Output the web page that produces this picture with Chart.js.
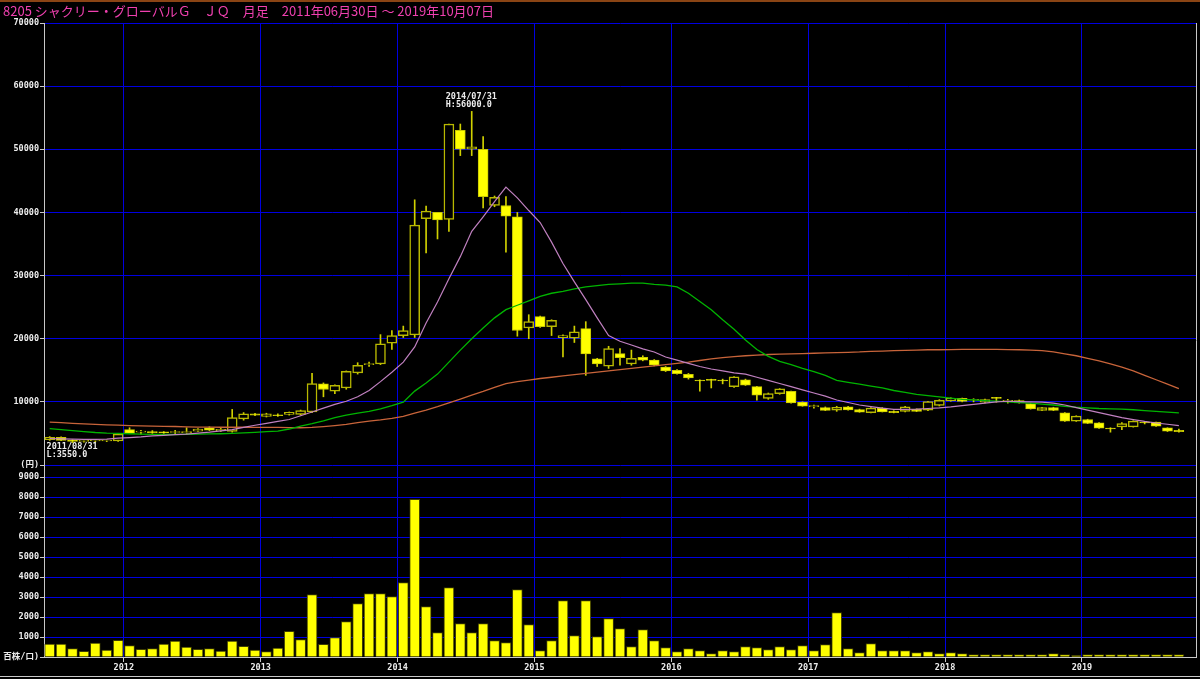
<!DOCTYPE html>
<html>
<head>
<meta charset="utf-8">
<script src="https://cdn.jsdelivr.net/npm/chart.js@4.4.0/dist/chart.umd.min.js"></script>
<style>
  html, body { margin: 0; padding: 0; background: #000; overflow: hidden; }
  #wrap { position: relative; width: 1200px; height: 679px; }
</style>
</head>
<body>
<div id="wrap"><canvas id="c" width="1200" height="679"></canvas></div>
<script>
// monthly candles 2011/06 .. 2019/10 (last month has no candle yet)
const months = [
  '2011/06','2011/07','2011/08','2011/09','2011/10','2011/11','2011/12',
  '2012/01','2012/02','2012/03','2012/04','2012/05','2012/06','2012/07','2012/08','2012/09','2012/10','2012/11','2012/12',
  '2013/01','2013/02','2013/03','2013/04','2013/05','2013/06','2013/07','2013/08','2013/09','2013/10','2013/11','2013/12',
  '2014/01','2014/02','2014/03','2014/04','2014/05','2014/06','2014/07','2014/08','2014/09','2014/10','2014/11','2014/12',
  '2015/01','2015/02','2015/03','2015/04','2015/05','2015/06','2015/07','2015/08','2015/09','2015/10','2015/11','2015/12',
  '2016/01','2016/02','2016/03','2016/04','2016/05','2016/06','2016/07','2016/08','2016/09','2016/10','2016/11','2016/12',
  '2017/01','2017/02','2017/03','2017/04','2017/05','2017/06','2017/07','2017/08','2017/09','2017/10','2017/11','2017/12',
  '2018/01','2018/02','2018/03','2018/04','2018/05','2018/06','2018/07','2018/08','2018/09','2018/10','2018/11','2018/12',
  '2019/01','2019/02','2019/03','2019/04','2019/05','2019/06','2019/07','2019/08','2019/09','2019/10'
];

const opens = [
  4000,4400,3950,3750,3800,3800,3800,5600,5200,5300,
  5200,5150,5100,5350,5900,5400,5300,7300,8100,7700,
  7900,8000,8000,8400,12850,11700,12200,14600,15900,16000,
  19300,20500,20600,39000,40000,38900,53000,50000,50000,41100,
  41100,39300,21700,23500,21900,20150,20100,21600,16800,15650,
  17650,16000,17050,16600,15500,15000,14370,13400,13500,13450,
  12400,13500,12400,10550,11300,11650,9950,9250,9100,8680,
  9210,8790,8300,8990,8500,8470,8800,8680,9420,10160,
  10570,10250,9940,10630,10100,10210,9740,8630,9100,8260,
  6940,7200,6680,5830,6050,6050,6780,6780,5890,5510
];
const highs = [
  4500,4450,4000,3900,4000,3950,5000,5900,5500,5450,
  5300,5500,5900,5750,6050,5800,8800,8300,8200,8200,
  8100,8400,8700,14500,13000,12700,14900,16200,16300,20650,
  21300,22000,42000,41000,40000,54000,54000,56000,52000,42600,
  42500,40000,23800,23600,23000,20600,22000,22700,16900,18800,
  18440,18200,17300,16700,15600,15100,14500,13500,13600,13600,
  14000,13600,12450,11400,12100,11700,10000,9500,9200,9300,
  9300,8850,9100,9100,8600,9300,8900,10100,10350,10650,
  10600,10500,10450,10700,10400,10300,9800,9150,9150,8300,
  7800,7250,6700,5900,6700,7000,6900,6800,5900,5700
];
const lows = [
  3900,3850,3550,3600,3650,3700,3750,4950,4900,5000,
  5000,4900,5000,5300,5450,5300,5200,7100,7800,7600,
  7700,7900,7900,8300,10800,11300,12000,14400,15600,15900,
  18300,20200,20200,33600,35800,37000,49000,49000,40700,40900,
  33700,20400,20000,21800,20500,17100,19400,14200,15600,15300,
  15800,15800,16500,15700,14800,14400,13600,11700,12200,12850,
  12300,12600,10250,10400,11200,9800,9300,9000,8600,8500,
  8700,8350,8250,8400,8250,8400,8450,8600,9350,10100,
  10000,10000,9850,9940,9800,9800,8850,8600,8600,6900,
  6900,6550,5800,5200,5600,6000,6500,6100,5300,5200
];
const closes = [
  4400,3900,3750,3800,3800,3850,4900,5000,5250,5100,
  5100,5150,5300,5700,5500,5650,7500,8100,7900,8100,
  7800,8350,8600,12900,11950,12600,14850,15800,16000,19200,
  20500,21300,38000,40200,38800,54000,50000,50400,42500,42400,
  39400,21300,22700,21900,22900,20500,21100,17600,16000,18450,
  17000,16900,16600,15800,14900,14480,13800,13300,13400,13300,
  13950,12650,11050,11300,12050,9850,9300,9250,8630,9150,
  8740,8360,9000,8420,8300,9210,8500,10050,10260,10570,
  10050,10260,10370,10550,10100,9850,8900,9100,8630,6940,
  7730,6570,5830,5700,6570,6940,6650,6140,5350,5260
];

// moving averages (pink / green / brown)
const maShort = [
  4200,4150,4100,4050,4050,4100,4250,4350,4450,4600,
  4700,4800,4900,5050,5200,5400,5600,5950,6300,6600,
  6900,7200,7800,8400,9000,9600,10100,10800,11800,13200,
  14700,16300,18700,22500,25800,29500,33000,37000,39300,41700,
  44000,42300,40300,38400,35300,31900,29000,26200,23300,20500,
  19600,19000,18400,17900,17100,16600,16100,15600,15200,14900,
  14600,14400,13900,13400,12900,12400,11900,11400,10900,10300,
  9900,9500,9250,9000,8800,8800,8850,8950,9050,9200,
  9400,9600,9800,10000,10100,10050,10000,9950,9800,9500,
  9100,8700,8300,7900,7500,7200,6900,6650,6450,6250
];
const maMid = [
  5750,5600,5450,5300,5150,5050,5000,4950,4900,4850,
  4830,4830,4850,4880,4920,4950,5000,5080,5180,5300,
  5350,5700,6150,6550,7000,7500,7900,8200,8500,8900,
  9400,9950,11700,13000,14400,16300,18200,20000,21700,23300,
  24600,25300,26000,26700,27200,27500,27900,28200,28400,28600,
  28700,28800,28800,28600,28500,28200,27200,25900,24600,23000,
  21500,19800,18300,17200,16400,15900,15300,14800,14200,13400,
  13100,12800,12500,12200,11800,11500,11200,11000,10800,10600,
  10400,10300,10200,10100,10000,9900,9800,9650,9500,9300,
  9150,9050,8950,8900,8850,8750,8600,8480,8380,8260
];
const maLong = [
  6800,6700,6600,6500,6420,6350,6300,6250,6200,6150,
  6130,6100,6050,6000,6000,5980,5980,5980,5970,5970,
  5960,5930,5900,5950,6080,6250,6450,6700,6950,7150,
  7400,7700,8200,8700,9250,9850,10450,11050,11650,12300,
  12900,13200,13450,13700,13900,14100,14300,14500,14700,14900,
  15100,15300,15500,15700,15900,16100,16300,16550,16800,17000,
  17150,17300,17400,17500,17550,17600,17650,17700,17750,17800,
  17850,17900,18000,18050,18100,18150,18200,18250,18250,18280,
  18300,18300,18300,18300,18280,18250,18200,18100,17900,17600,
  17300,16900,16500,16000,15500,14900,14200,13500,12800,12100
];

// volume, 百株
const volumes = [
  650,650,420,280,700,350,830,570,380,420,
  650,800,500,380,420,300,800,530,350,270,
  450,1280,870,3120,630,970,1770,2670,3170,3170,
  3020,3720,7880,2520,1220,3470,1670,1220,1670,820,
  720,3370,1620,320,820,2820,1070,2820,1020,1920,
  1420,520,1370,820,470,270,420,320,170,320,
  270,520,470,370,520,370,570,320,620,2220,
  420,220,670,320,320,320,220,270,170,220,
  170,120,120,120,120,120,120,120,170,120,
  70,120,120,120,120,120,120,120,120,120
];

const yearLabels = ['2012','2013','2014','2015','2016','2017','2018','2019'];
const priceTicks = [0,10000,20000,30000,40000,50000,60000,70000];
const volumeTicks = [0,1000,2000,3000,4000,5000,6000,7000,8000,9000];

const title = '8205 シャクリー・グローバルＧ　ＪＱ　月足　2011年06月30日 ～ 2019年10月07日';
const highNote = { idx: 37, date: '2014/07/31', text: 'H:56000.0' };
const lowNote = { idx: 2, date: '2011/08/31', text: 'L:3550.0' };

const BLUE = '#0000e0';
const GRAY = '#c8c8c8';
const TXT = '#ececec';
const MONO = "'DejaVu Sans Mono', 'Noto Sans CJK JP', monospace";

const up = i => closes[i] >= opens[i];

const wickData = opens.map((o, i) => ({ x: i, y: [lows[i], highs[i]] }));
const bodyData = opens.map((o, i) => ({ x: i, y: [o, closes[i]] }));
const volData = volumes.map((v, i) => ({ x: i, y: v }));
const line = arr => arr.map((v, i) => ({ x: i, y: v }));

// year grid lines sit on the boundary before each January
const janIdx = yearLabels.map(y => months.indexOf(y + '/01') - 0.5);

const overlay = {
  id: 'overlay',
  afterDraw(chart) {
    const { ctx, chartArea: a, scales } = chart;
    ctx.save();
    // frame
    ctx.fillStyle = '#8a4414';
    ctx.fillRect(0, 0, 1200, 2);
    ctx.strokeStyle = GRAY;
    ctx.lineWidth = 1;
    ctx.beginPath();
    ctx.moveTo(a.right + 0.5, a.top);
    ctx.lineTo(a.right + 0.5, a.bottom + 1);
    ctx.moveTo(0, 676.5);
    ctx.lineTo(1200, 676.5);
    ctx.stroke();
    // title
    ctx.fillStyle = '#f040b0';
    ctx.font = "13px 'Noto Sans CJK JP'";
    ctx.textBaseline = 'middle';
    ctx.fillText(title, 3, 11);
    // high / low notes
    ctx.fillStyle = TXT;
    ctx.font = 'bold 8.5px ' + MONO;
    const hx = scales.x.getPixelForValue(highNote.idx) - 26;
    const hy = scales.y.getPixelForValue(highs[highNote.idx]);
    ctx.fillText(highNote.date, hx, hy - 14.5);
    ctx.fillText(highNote.text, hx, hy - 6.5);
    const lx = scales.x.getPixelForValue(lowNote.idx) - 26;
    const ly = scales.y.getPixelForValue(lows[lowNote.idx]);
    ctx.fillText(lowNote.date, lx, ly + 4);
    ctx.fillText(lowNote.text, lx, ly + 12.5);
    ctx.restore();
  }
};

const tickFont = { family: MONO, size: 8.5, weight: 'bold' };

new Chart(document.getElementById('c'), {
  data: {
    datasets: [
      { type: 'line', data: line(maShort), borderColor: '#c080c0', borderWidth: 1.2, pointRadius: 0, yAxisID: 'y', order: 0 },
      { type: 'line', data: line(maMid), borderColor: '#00b400', borderWidth: 1.3, pointRadius: 0, yAxisID: 'y', order: 0 },
      { type: 'line', data: line(maLong), borderColor: '#c8643a', borderWidth: 1.3, pointRadius: 0, yAxisID: 'y', order: 0 },
      {
        type: 'bar', data: bodyData, yAxisID: 'y', order: 1, grouped: false,
        barThickness: 10, minBarLength: 1,
        backgroundColor: c => up(c.dataIndex) ? '#000000' : '#ffff00',
        borderColor: c => up(c.dataIndex) ? '#b8b800' : '#c8c800',
        borderWidth: c => up(c.dataIndex) ? 1.5 : 1, borderSkipped: false
      },
      { type: 'bar', data: wickData, yAxisID: 'y', order: 2, grouped: false, barThickness: 1, backgroundColor: '#d0d000' },
      {
        type: 'bar', data: volData, yAxisID: 'yv', order: 3, grouped: false,
        barThickness: 10, backgroundColor: '#ffff00', borderColor: '#3c3c00', borderWidth: 1, borderSkipped: 'bottom'
      }
    ]
  },
  options: {
    responsive: false,
    animation: false,
    events: [],
    layout: { padding: { left: 0, top: 23, right: 4, bottom: 0 } },
    plugins: { legend: { display: false }, tooltip: { enabled: false } },
    scales: {
      x: {
        type: 'linear', min: -0.5, max: months.length - 0.5, offset: false,
        afterBuildTicks: s => { s.ticks = janIdx.map(v => ({ value: v })); },
        afterFit: s => { s.height = 22; },
        ticks: {
          color: TXT, font: tickFont, padding: 1, maxRotation: 0, autoSkip: false,
          callback: (v, i) => yearLabels[i]
        },
        grid: { offset: false, color: BLUE, lineWidth: 1, tickColor: GRAY, tickLength: 5 },
        border: { color: GRAY }
      },
      yv: {
        type: 'linear', position: 'left', stack: 'main', stackWeight: 192,
        min: 0, max: 9600,
        afterBuildTicks: s => { s.ticks = volumeTicks.map(v => ({ value: v })); },
        afterFit: s => { s.width = 44; },
        ticks: { color: TXT, font: tickFont, padding: 1, autoSkip: false, callback: v => v === 0 ? '百株/口)' : String(v) },
        grid: { color: c => c.tick && c.tick.value === 0 ? GRAY : BLUE, tickColor: GRAY, tickLength: 4 },
        border: { color: GRAY }
      },
      y: {
        type: 'linear', position: 'left', stack: 'main', stackWeight: 442,
        min: 0, max: 70000,
        afterBuildTicks: s => { s.ticks = priceTicks.map(v => ({ value: v })); },
        afterFit: s => { s.width = 44; },
        ticks: { color: TXT, font: tickFont, padding: 1, autoSkip: false, callback: v => v === 0 ? '(円)' : String(v) },
        grid: { color: BLUE, tickColor: GRAY, tickLength: 4 },
        border: { color: GRAY }
      }
    }
  },
  plugins: [overlay]
});
</script>
</body>
</html>
